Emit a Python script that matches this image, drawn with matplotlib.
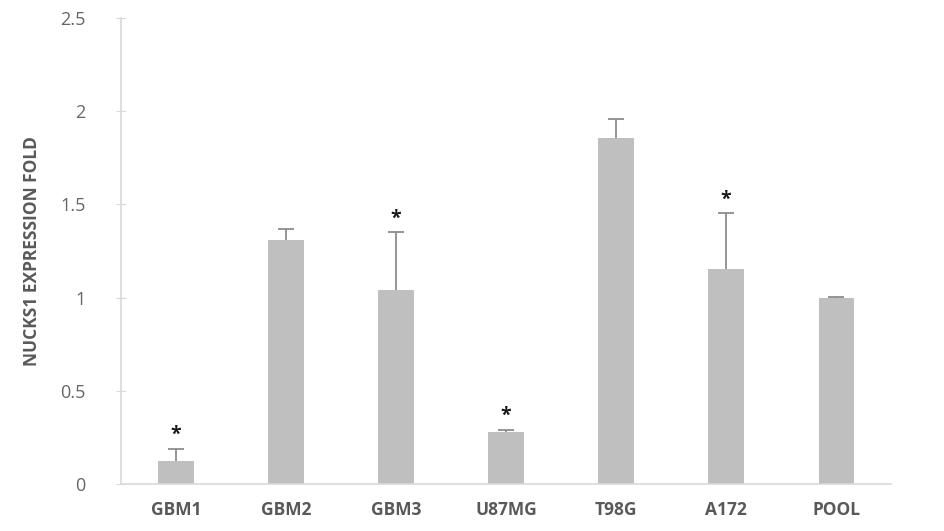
import numpy as np
import matplotlib.pyplot as plt

plt.rcParams['font.family'] = ['Open Sans', 'DejaVu Sans']

# data
samples = ["GBM1", "GBM2", "GBM3", "U87MG", "T98G", "A172", "POOL"]
fold = [0.125, 1.31, 1.04, 0.277, 1.858, 1.152, 1.0]
err_up = [0.065, 0.06, 0.31, 0.013, 0.098, 0.30, 0.003]
significant = [True, False, True, True, False, True, False]

fig = plt.figure(figsize=(9.45, 5.31), dpi=100)
ax = fig.add_axes([0.128, 0.0885, 0.815, 0.8775])

x = np.arange(len(samples))
top = np.array(fold) + np.array(err_up)
ax.bar(x, fold, width=0.32, color="#bfbfbf", zorder=2)
# upper-only error bars with a cap at the top end
ax.errorbar(x, fold, yerr=[np.zeros(len(fold)), err_up], fmt="none",
            ecolor="#8c8c8c", elinewidth=1.3, capsize=0, zorder=3)
ax.plot(x, top, linestyle="none", marker="_", markersize=11,
        markeredgewidth=1.3, color="#8c8c8c", zorder=3)

# significance stars above the error bars
for xi, t, s in zip(x, top, significant):
    if s:
        ax.text(xi, t + 0.02, "*", ha="center", va="bottom",
                fontsize=14, fontweight="bold", color="#1a1a1a")

ax.set_xlim(-0.5, len(samples) - 0.5)
ax.set_ylim(0, 2.5)
ax.set_yticks([0, 0.5, 1, 1.5, 2, 2.5])
ax.set_yticklabels(["0", "0.5", "1", "1.5", "2", "2.5"])
ax.set_xticks(x)
ax.set_xticklabels(samples, fontweight="bold")

for side in ["top", "right"]:
    ax.spines[side].set_visible(False)
ax.spines["left"].set_color("#d9d9d9")
ax.spines["bottom"].set_color("#d9d9d9")
ax.spines["left"].set_linewidth(1.2)
ax.spines["bottom"].set_linewidth(1.2)

ax.tick_params(axis="y", direction="inout", length=7, color="#d9d9d9",
               labelcolor="#666666", labelsize=13, pad=22)
ax.tick_params(axis="x", length=0, labelcolor="#595959", labelsize=12.5, pad=12)

ax.set_ylabel("NUCKS1 EXPRESSION FOLD", fontsize=12.5, fontweight="bold",
              color="#595959", labelpad=14)

fig.savefig("out.png", dpi=100)
